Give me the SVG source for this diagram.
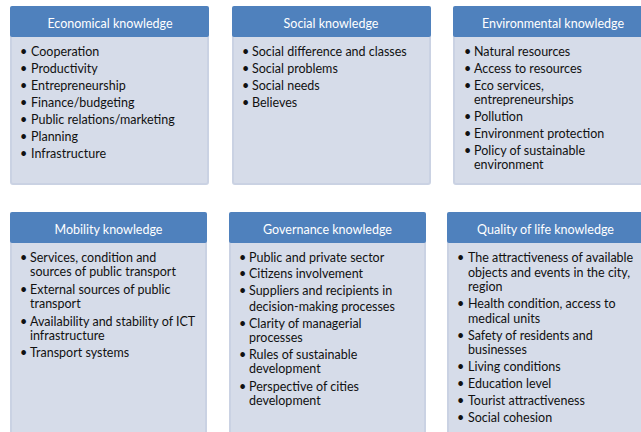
<svg xmlns="http://www.w3.org/2000/svg" width="641" height="432" viewBox="0 0 641 432">
<style>
.hd{fill:#4F81BD}
.bd{fill:#D6DCE9;stroke:#CAD2E3;stroke-width:2}
.ht{font-family:"Lato","Liberation Sans",sans-serif;font-size:12.5px;fill:#FFFFFF;text-anchor:middle}
.it{font-family:"Lato","Liberation Sans",sans-serif;font-size:12.5px;fill:#111111}
</style>
<rect width="641" height="432" fill="#FFFFFF"/>
<g id="economical">
<rect class="bd" x="11" y="30" width="197" height="154" rx="2"/>
<rect class="hd" x="10" y="6" width="199" height="31" rx="2"/>
<text class="ht" x="110" y="28">Economical knowledge</text>
<text class="it" x="20" y="56">•</text><text class="it" x="31" y="56">Cooperation</text>
<text class="it" x="20" y="73">•</text><text class="it" x="31" y="73">Productivity</text>
<text class="it" x="20" y="90">•</text><text class="it" x="31" y="90">Entrepreneurship</text>
<text class="it" x="20" y="107">•</text><text class="it" x="31" y="107">Finance/budgeting</text>
<text class="it" x="20" y="124">•</text><text class="it" x="31" y="124">Public relations/marketing</text>
<text class="it" x="20" y="141">•</text><text class="it" x="31" y="141">Planning</text>
<text class="it" x="20" y="158">•</text><text class="it" x="31" y="158">Infrastructure</text>
</g>
<g id="social">
<rect class="bd" x="233" y="30" width="197" height="154" rx="2"/>
<rect class="hd" x="232" y="6" width="199" height="31" rx="2"/>
<text class="ht" x="331" y="28">Social knowledge</text>
<text class="it" x="242" y="56">•</text><text class="it" x="252" y="56">Social difference and classes</text>
<text class="it" x="242" y="73">•</text><text class="it" x="252" y="73">Social problems</text>
<text class="it" x="242" y="90">•</text><text class="it" x="252" y="90">Social needs</text>
<text class="it" x="242" y="107">•</text><text class="it" x="252" y="107">Believes</text>
</g>
<g id="environmental">
<rect class="bd" x="454" y="30" width="197" height="154" rx="2"/>
<rect class="hd" x="453" y="6" width="199" height="31" rx="2"/>
<text class="ht" x="553" y="28">Environmental knowledge</text>
<text class="it" x="464" y="56">•</text><text class="it" x="474" y="56">Natural resources</text>
<text class="it" x="464" y="73">•</text><text class="it" x="474" y="73">Access to resources</text>
<text class="it" x="464" y="90">•</text><text class="it" x="474" y="90">Eco services,</text>
<text class="it" x="474" y="104">entrepreneurships</text>
<text class="it" x="464" y="121">•</text><text class="it" x="474" y="121">Pollution</text>
<text class="it" x="464" y="138">•</text><text class="it" x="474" y="138">Environment protection</text>
<text class="it" x="464" y="155">•</text><text class="it" x="474" y="155">Policy of sustainable</text>
<text class="it" x="474" y="169">environment</text>
</g>
<g id="mobility">
<rect class="bd" x="11" y="236" width="195" height="210" rx="2"/>
<rect class="hd" x="10" y="212" width="197" height="31" rx="2"/>
<text class="ht" x="108.5" y="234">Mobility knowledge</text>
<text class="it" x="20" y="262">•</text><text class="it" x="30" y="262">Services, condition and</text>
<text class="it" x="30" y="276">sources of public transport</text>
<text class="it" x="20" y="294">•</text><text class="it" x="30" y="294">External sources of public</text>
<text class="it" x="30" y="308">transport</text>
<text class="it" x="20" y="326">•</text><text class="it" x="30" y="326">Availability and stability of ICT</text>
<text class="it" x="30" y="340">infrastructure</text>
<text class="it" x="20" y="357">•</text><text class="it" x="30" y="357">Transport systems</text>
</g>
<g id="governance">
<rect class="bd" x="230" y="236" width="195" height="210" rx="2"/>
<rect class="hd" x="229" y="212" width="197" height="31" rx="2"/>
<text class="ht" x="327.5" y="234">Governance knowledge</text>
<text class="it" x="239" y="262">•</text><text class="it" x="249" y="262">Public and private sector</text>
<text class="it" x="239" y="278">•</text><text class="it" x="249" y="278">Citizens involvement</text>
<text class="it" x="239" y="295">•</text><text class="it" x="249" y="295">Suppliers and recipients in</text>
<text class="it" x="249" y="311">decision-making processes</text>
<text class="it" x="239" y="328">•</text><text class="it" x="249" y="328">Clarity of managerial</text>
<text class="it" x="249" y="342">processes</text>
<text class="it" x="239" y="359">•</text><text class="it" x="249" y="359">Rules of sustainable</text>
<text class="it" x="249" y="373">development</text>
<text class="it" x="239" y="391">•</text><text class="it" x="249" y="391">Perspective of cities</text>
<text class="it" x="249" y="405">development</text>
</g>
<g id="quality">
<rect class="bd" x="448" y="236" width="195" height="210" rx="2"/>
<rect class="hd" x="447" y="212" width="197" height="31" rx="2"/>
<text class="ht" x="545.5" y="234">Quality of life knowledge</text>
<text class="it" x="457" y="262">•</text><text class="it" x="468" y="262">The attractiveness of available</text>
<text class="it" x="468" y="276.5">objects and events in the city,</text>
<text class="it" x="468" y="291">region</text>
<text class="it" x="457" y="308">•</text><text class="it" x="468" y="308">Health condition, access to</text>
<text class="it" x="468" y="322.5">medical units</text>
<text class="it" x="457" y="339.5">•</text><text class="it" x="468" y="339.5">Safety of residents and</text>
<text class="it" x="468" y="354">businesses</text>
<text class="it" x="457" y="371">•</text><text class="it" x="468" y="371">Living conditions</text>
<text class="it" x="457" y="388">•</text><text class="it" x="468" y="388">Education level</text>
<text class="it" x="457" y="405">•</text><text class="it" x="468" y="405">Tourist attractiveness</text>
<text class="it" x="457" y="422">•</text><text class="it" x="468" y="422">Social cohesion</text>
</g>
<g id="connectors"></g>
</svg>
